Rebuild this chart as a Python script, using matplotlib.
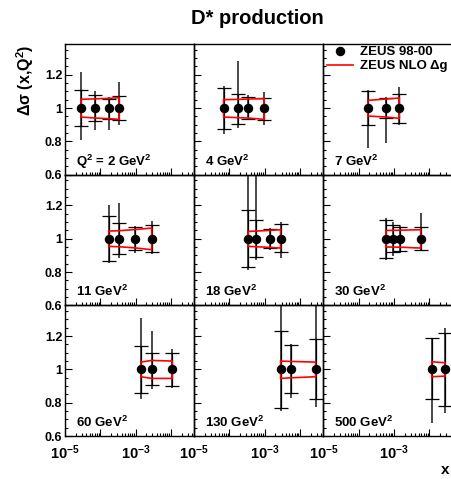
import matplotlib
matplotlib.use('Agg')
import matplotlib.pyplot as plt
from matplotlib.lines import Line2D
from matplotlib.ticker import FixedLocator, LogLocator, MultipleLocator, NullFormatter
import numpy as np

plt.rcParams['font.family'] = ['Liberation Sans', 'DejaVu Sans']
plt.rcParams['font.weight'] = 'bold'
plt.rcParams['mathtext.fontset'] = 'custom'
plt.rcParams['mathtext.rm'] = 'Liberation Sans'
plt.rcParams['mathtext.bf'] = 'Liberation Sans:bold'
plt.rcParams['mathtext.it'] = 'Liberation Sans:italic'
plt.rcParams['mathtext.default'] = 'bf'

# panel labels (Q^2 bins)
q2_labels = ['Q$^2$ = 2 GeV$^2$', '4 GeV$^2$', '7 GeV$^2$',
             '11 GeV$^2$', '18 GeV$^2$', '30 GeV$^2$',
             '60 GeV$^2$', '130 GeV$^2$', '500 GeV$^2$']

# x of the data points in each panel
x_pts = [
    [2.84e-5, 6.9e-5, 1.73e-4, 3.4e-4],
    [6.8e-5, 1.76e-4, 3.4e-4, 9.6e-4],
    [1.81e-4, 6.0e-4, 1.42e-3],
    [1.73e-4, 3.4e-4, 9.6e-4, 2.86e-3],
    [3.4e-4, 5.7e-4, 1.39e-3, 2.8e-3],
    [5.9e-4, 9.6e-4, 1.49e-3, 5.7e-3],
    [1.42e-3, 2.86e-3, 1.1e-2],
    [2.8e-3, 5.7e-3, 2.75e-2],
    [1.17e-2, 2.8e-2],
]
# ZEUS 98-00 points (normalised)
y_pts = [
    [1.0, 1.0, 1.0, 1.0],
    [1.0, 1.0, 1.0, 1.0],
    [1.0, 1.0, 1.0],
    [1.0, 1.0, 1.0, 1.0],
    [1.0, 1.0, 1.0, 1.0],
    [1.0, 1.0, 1.0, 1.0],
    [1.0, 1.0, 1.0],
    [1.0, 1.0, 1.0],
    [1.0, 1.0],
]
# statistical error, upper / lower ends
stat_hi = [
    [1.106, 1.08, 1.056, 1.072],
    [1.122, 1.086, 1.068, 1.062],
    [1.10, 1.06, 1.086],
    [1.138, 1.094, 1.068, 1.08],
    [1.17, 1.11, 1.058, 1.088],
    [1.11, 1.084, 1.07, 1.07],
    [1.14, 1.10, 1.10],
    [1.23, 1.146, 1.18],
    [1.186, 1.22],
]
stat_lo = [
    [0.89, 0.92, 0.936, 0.926],
    [0.876, 0.906, 0.936, 0.926],
    [0.896, 0.94, 0.91],
    [0.864, 0.908, 0.93, 0.92],
    [0.832, 0.89, 0.944, 0.918],
    [0.884, 0.918, 0.924, 0.93],
    [0.86, 0.904, 0.90],
    [0.77, 0.856, 0.82],
    [0.82, 0.78],
]
# total error, upper / lower ends
tot_hi = [
    [1.216, 1.10, 1.066, 1.156],
    [1.13, 1.28, 1.076, 1.096],
    [1.106, 1.066, 1.126],
    [1.204, 1.214, 1.074, 1.104],
    [1.6, 1.6, 1.064, 1.098],
    [1.124, 1.098, 1.078, 1.154],
    [1.31, 1.23, 1.124],
    [1.6, 1.15, 1.6],
    [1.19, 1.25],
]
tot_lo = [
    [0.81, 0.87, 0.866, 0.90],
    [0.846, 0.882, 0.926, 0.896],
    [0.76, 0.79, 0.90],
    [0.854, 0.884, 0.914, 0.91],
    [0.81, 0.874, 0.934, 0.884],
    [0.874, 0.898, 0.914, 0.924],
    [0.824, 0.88, 0.89],
    [0.75, 0.83, 0.774],
    [0.68, 0.74],
]
# NLO dg band
nlo_hi = [
    [1.052, 1.055, 1.058, 1.062],
    [1.05, 1.052, 1.054, 1.056],
    [1.046, 1.054, 1.06],
    [1.046, 1.048, 1.055, 1.064],
    [1.044, 1.046, 1.05, 1.054],
    [1.05, 1.05, 1.051, 1.054],
    [1.044, 1.054, 1.05],
    [1.05, 1.048, 1.044],
    [1.046, 1.04],
]
nlo_lo = [
    [0.946, 0.94, 0.936, 0.932],
    [0.946, 0.942, 0.94, 0.932],
    [0.952, 0.946, 0.938],
    [0.954, 0.952, 0.945, 0.934],
    [0.954, 0.952, 0.948, 0.944],
    [0.95, 0.95, 0.949, 0.944],
    [0.956, 0.946, 0.946],
    [0.946, 0.95, 0.956],
    [0.956, 0.96],
]

x_ticks = [1e-5, 1e-4, 1e-3, 1e-2]
x_ticklabels = ['$10^{-5}$', '', '$10^{-3}$', '']
y_ticks = [0.6, 0.8, 1.0, 1.2]
y_ticklabels = ['0.6', '0.8', '1', '1.2']

W, H = 451, 479
fig = plt.figure(figsize=(W / 100, H / 100), dpi=100)

x0, pw = 65, 129.2
y0, ph = 44, 130.7
axes = []
for i in range(9):
    r, c = divmod(i, 3)
    ax = fig.add_axes([(x0 + c * pw) / W, 1 - (y0 + (r + 1) * ph) / H, pw / W, ph / H])
    ax.set_facecolor('none')
    axes.append(ax)

    x = np.array(x_pts[i])
    y = np.array(y_pts[i])
    ax.errorbar(x, y, yerr=[y - np.array(tot_lo[i]), np.array(tot_hi[i]) - y],
                fmt='none', ecolor='#4a4a4a', elinewidth=1.4, capsize=0, zorder=2)
    ax.errorbar(x, y, yerr=[y - np.array(stat_lo[i]), np.array(stat_hi[i]) - y],
                fmt='none', ecolor='black', elinewidth=0.9, capsize=5, capthick=0.9, zorder=3)
    ax.fill(np.concatenate([x, x[::-1]]),
            np.concatenate([nlo_hi[i], nlo_lo[i][::-1]]),
            fill=False, edgecolor='red', lw=1.2, zorder=4)
    ax.plot(x, y, 'o', color='black', ms=5.8, zorder=5)

    ax.set_xscale('log')
    ax.set_xlim(1e-5, 10 ** (-5 + pw / 35.3))
    ax.set_ylim(0.6, 0.6 + ph / 166.7)

    ax.xaxis.set_major_locator(FixedLocator(x_ticks))
    ax.set_xticklabels(x_ticklabels)
    ax.xaxis.set_minor_locator(LogLocator(base=10, subs=np.arange(2, 10), numticks=20))
    ax.xaxis.set_minor_formatter(NullFormatter())
    ax.set_yticks(y_ticks)
    ax.set_yticklabels(y_ticklabels)
    ax.yaxis.set_minor_locator(MultipleLocator(0.05))

    ax.tick_params(which='both', direction='in', top=False, right=False, width=0.8)
    ax.tick_params(which='major', length=5)
    ax.tick_params(which='minor', length=2.5)
    ax.tick_params(axis='x', labelsize=10.5, pad=5, labelbottom=(r == 2))
    ax.tick_params(axis='y', labelsize=9, pad=2, labelleft=(c == 0))
    for s in ax.spines.values():
        s.set_linewidth(1.0)

    ax.text(11 / pw, 9 / ph, q2_labels[i], transform=ax.transAxes,
            fontsize=9.5, fontweight='bold', ha='left', va='baseline')

handles = [Line2D([], [], marker='o', color='black', ls='none', ms=5.8),
           Line2D([], [], color='red', lw=1.2)]
axes[2].legend(handles, ['ZEUS 98-00', 'ZEUS NLO \u0394g'], loc='upper left',
               bbox_to_anchor=(0.025, 0.985), frameon=False, fontsize=9.5,
               handlelength=2.0, handletextpad=0.5, labelspacing=0.15,
               borderpad=0, borderaxespad=0)

fig.text(257 / W, 1 - 24 / H, 'D* production', fontsize=14.5, fontweight='bold',
         ha='center', va='baseline')
fig.text(25 / W, 1 - 45 / H, r'$\mathrm{\Delta\sigma}$ (x,Q$^2$)', fontsize=11.5,
         fontweight='bold', rotation=90, ha='center', va='top')
fig.text(449 / W, 1 - 474 / H, 'x', fontsize=11, fontweight='bold',
         ha='right', va='baseline')

fig.savefig('out.png', dpi=100)
